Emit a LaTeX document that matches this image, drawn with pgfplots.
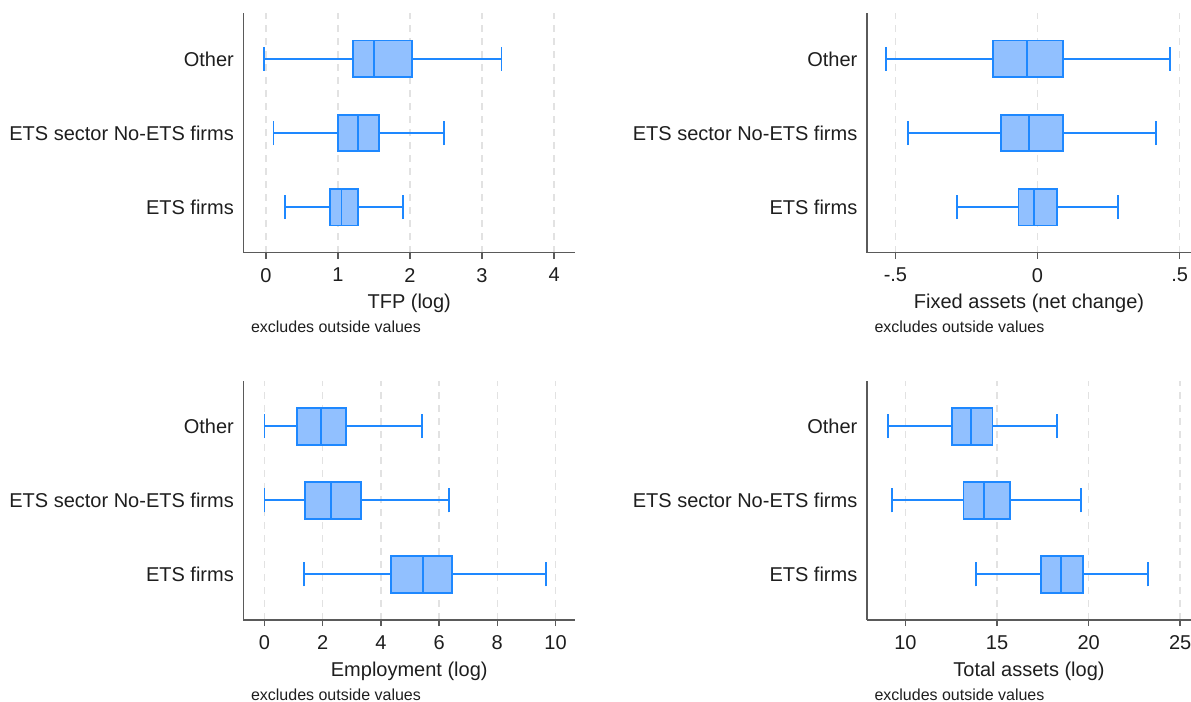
\documentclass[border=0pt]{standalone}
\usepackage{fontspec}
\setmainfont{Liberation Sans}
\usepackage{pgfplots}
\pgfplotsset{compat=1.18}
\usepgfplotslibrary{statistics}
\definecolor{boxfill}{RGB}{145,192,255}
\definecolor{boxedge}{RGB}{30,136,255}
\definecolor{axgray}{RGB}{90,90,90}
\definecolor{gridgray}{RGB}{226,226,226}
\definecolor{txt}{RGB}{30,30,30}
\pgfplotsset{
  panel/.style={
    scale only axis,
    axis x line*=bottom, axis y line*=left,
    ymin=0.385, ymax=3.615,
    ytick={1,2,3},
    yticklabels={ETS firms, ETS sector No-ETS firms, Other},
    xmajorgrids,
    grid style={gridgray, dash pattern=on 7bp off 6bp, line width=1.5bp},
    axis line style={axgray, line width=1.5bp},
    x tick style={axgray, line width=1.5bp},
    y tick style={draw=none},
    major tick length=6bp,
    tick align=outside,
    ticklabel style={font=\fontsize{20bp}{24bp}\selectfont, text=txt},
    xticklabel style={yshift=-6bp},
    yticklabel style={inner sep=0pt, xshift=-3.5bp},
    /pgf/number format/assume math mode=true,
    clip=false,
    boxplot/box extend=0.496,
    boxplot/whisker extend=0.324,
  },
}
\tikzset{
  bx/.style={draw=boxedge, fill=boxfill, line width=1.9bp, solid},
  xlab/.style={anchor=base, yshift=-56bp, font=\fontsize{20bp}{24bp}\selectfont, text=txt},
  note/.style={anchor=base west, xshift=4bp, yshift=-80bp, font=\fontsize{16bp}{19bp}\selectfont, text=txt},
}
\begin{document}
\begin{tikzpicture}
\useasboundingbox (0bp,0bp) rectangle (1191bp,702bp);
% Panel 1: TFP
\begin{axis}[panel, at={(243.5bp,449.3bp)}, anchor=south west, width=331.5bp, height=239.4bp,
  xmin=-0.31, xmax=4.29, xtick={0,1,2,3,4}]
\addplot[bx, boxplot prepared={draw position=3, lower whisker=-0.02, lower quartile=1.215, median=1.50, upper quartile=2.03, upper whisker=3.27}] coordinates {};
\addplot[bx, boxplot prepared={draw position=2, lower whisker=0.106, lower quartile=1.00, median=1.28, upper quartile=1.575, upper whisker=2.47}] coordinates {};
\addplot[bx, boxplot prepared={draw position=1, lower whisker=0.27, lower quartile=0.89, median=1.05, upper quartile=1.28, upper whisker=1.90}] coordinates {};
\node[xlab] at (rel axis cs:0.5,0) {TFP (log)};
\node[note] at (rel axis cs:0,0) {excludes outside values};
\end{axis}
% Panel 2: Fixed assets
\begin{axis}[panel, at={(867bp,449.3bp)}, anchor=south west, width=324bp, height=239.4bp,
  xmin=-0.6, xmax=0.54, xtick={-0.5,0,0.5}, xticklabels={-.5,0,.5}]
\addplot[bx, boxplot prepared={draw position=3, lower whisker=-0.532, lower quartile=-0.157, median=-0.036, upper quartile=0.089, upper whisker=0.466}] coordinates {};
\addplot[bx, boxplot prepared={draw position=2, lower whisker=-0.455, lower quartile=-0.128, median=-0.030, upper quartile=0.089, upper whisker=0.416}] coordinates {};
\addplot[bx, boxplot prepared={draw position=1, lower whisker=-0.283, lower quartile=-0.067, median=-0.011, upper quartile=0.068, upper whisker=0.282}] coordinates {};
\node[xlab] at (rel axis cs:0.5,0) {Fixed assets (net change)};
\node[note] at (rel axis cs:0,0) {excludes outside values};
\end{axis}
% Panel 3: Employment
\begin{axis}[panel, at={(243.5bp,82bp)}, anchor=south west, width=331.5bp, height=239.4bp,
  xmin=-0.72, xmax=10.67, xtick={0,2,4,6,8,10}]
\addplot[bx, boxplot prepared={draw position=3, lower whisker=0, lower quartile=1.13, median=1.93, upper quartile=2.81, upper whisker=5.42}] coordinates {};
\addplot[bx, boxplot prepared={draw position=2, lower whisker=0, lower quartile=1.40, median=2.28, upper quartile=3.32, upper whisker=6.33}] coordinates {};
\addplot[bx, boxplot prepared={draw position=1, lower whisker=1.37, lower quartile=4.34, median=5.44, upper quartile=6.45, upper whisker=9.68}] coordinates {};
\node[xlab] at (rel axis cs:0.5,0) {Employment (log)};
\node[note] at (rel axis cs:0,0) {excludes outside values};
\end{axis}
% Panel 4: Total assets
\begin{axis}[panel, at={(867bp,82bp)}, anchor=south west, width=324bp, height=239.4bp,
  xmin=7.9, xmax=25.59, xtick={10,15,20,25}]
\addplot[bx, boxplot prepared={draw position=3, lower whisker=9.05, lower quartile=12.55, median=13.57, upper quartile=14.75, upper whisker=18.28}] coordinates {};
\addplot[bx, boxplot prepared={draw position=2, lower whisker=9.25, lower quartile=13.17, median=14.29, upper quartile=15.70, upper whisker=19.6}] coordinates {};
\addplot[bx, boxplot prepared={draw position=1, lower whisker=13.84, lower quartile=17.39, median=18.51, upper quartile=19.69, upper whisker=23.24}] coordinates {};
\node[xlab] at (rel axis cs:0.5,0) {Total assets (log)};
\node[note] at (rel axis cs:0,0) {excludes outside values};
\end{axis}
\end{tikzpicture}
\end{document}
